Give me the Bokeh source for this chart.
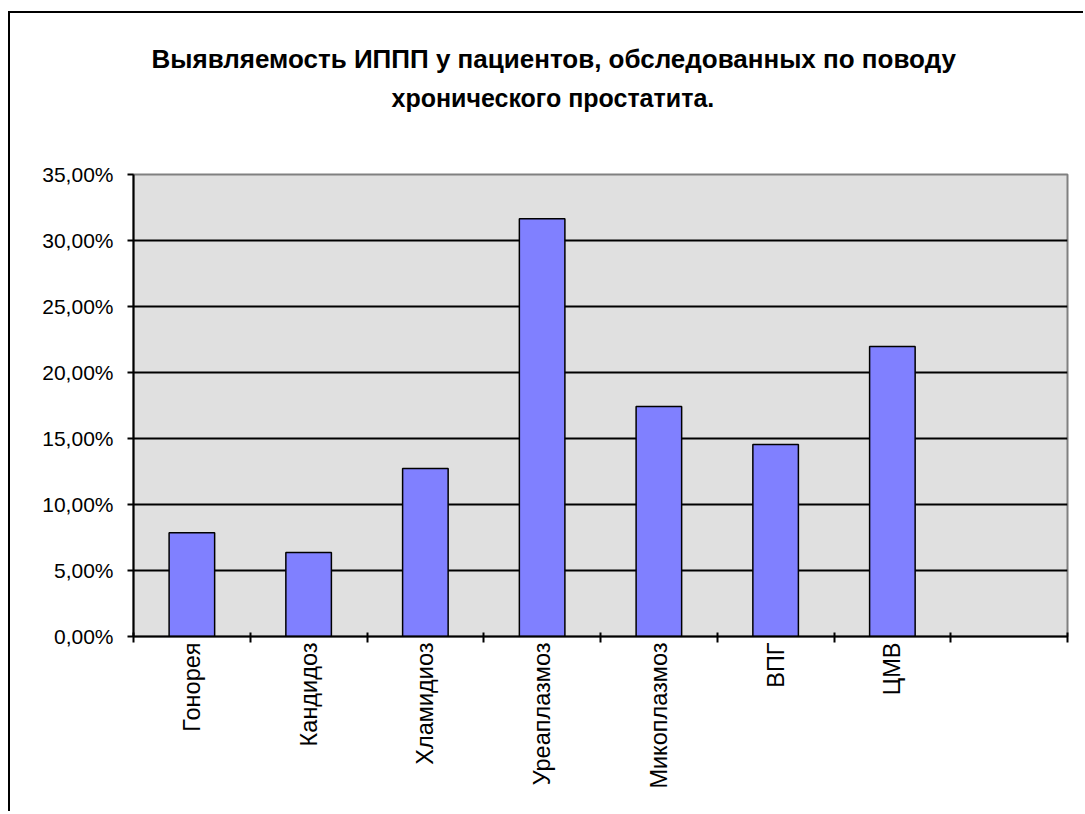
import math
from bokeh.plotting import figure
from bokeh.models import ColumnDataSource, FixedTicker, Range1d, Title
from bokeh.embed import file_html
from bokeh.resources import INLINE

categories = ["Гонорея", "Кандидоз", "Хламидиоз", "Уреаплазмоз", "Микоплазмоз", "ВПГ", "ЦМВ", ""]
values = [7.86, 6.36, 12.73, 31.64, 17.42, 14.55, 21.97, None]
y_ticks = [0, 5, 10, 15, 20, 25, 30, 35]
y_tick_labels = ["0,00%", "5,00%", "10,00%", "15,00%", "20,00%", "25,00%", "30,00%", "35,00%"]
title_lines = ["Выявляемость ИППП у пациентов, обследованных по поводу", "хронического простатита."]

FONT = "Liberation Sans"

xs = [i + 0.5 for i in range(len(categories)) if values[i] is not None]
tops = [v for v in values if v is not None]
src = ColumnDataSource(dict(x=xs, top=tops))

p = figure(width=1075, height=800, output_backend="svg", toolbar_location=None,
           x_range=Range1d(0, len(categories)), y_range=Range1d(0, 35),
           min_border_left=123, min_border_top=161, min_border_right=18, min_border_bottom=177)
p.styles = {"margin-left": "8px", "margin-top": "11px",
            "border-top": "2px solid black", "border-left": "2px solid black"}
p.title.visible = False

p.background_fill_color = "#e0e0e0"
p.border_fill_color = "white"
p.outline_line_color = "#808080"
p.outline_line_width = 2

p.vbar(x="x", top="top", width=0.39, bottom=0, source=src,
       fill_color="#8080ff", line_color="black", line_width=1.5)

# y axis
ya = p.yaxis[0]
ya.ticker = FixedTicker(ticks=y_ticks)
ya.major_label_overrides = {t: l for t, l in zip(y_ticks, y_tick_labels)}
ya.major_label_text_font = FONT
ya.major_label_text_font_size = "21px"
ya.major_label_text_color = "black"
ya.axis_line_color = "black"
ya.axis_line_width = 2
ya.major_tick_line_color = "black"
ya.major_tick_line_width = 2
ya.major_tick_out = 6
ya.major_tick_in = 0
ya.minor_tick_line_color = None
ya.major_label_standoff = 14

# x axis
xa = p.xaxis[0]
xa.ticker = FixedTicker(ticks=[i + 0.5 for i in range(len(categories))],
                        minor_ticks=list(range(len(categories) + 1)))
xa.major_label_overrides = {i + 0.5: c for i, c in enumerate(categories)}
xa.major_label_orientation = math.pi / 2
xa.major_label_text_font = FONT
xa.major_label_text_font_size = "23.5px"
xa.major_label_text_color = "black"
xa.axis_line_color = "black"
xa.axis_line_width = 2
xa.major_tick_line_color = None
xa.minor_tick_line_color = "black"
xa.minor_tick_line_width = 2
xa.minor_tick_in = 4
xa.minor_tick_out = 6
xa.major_label_standoff = 0

p.xgrid.visible = False
p.ygrid.ticker = FixedTicker(ticks=[5, 10, 15, 20, 25, 30])
p.ygrid.grid_line_color = "black"
p.ygrid.grid_line_width = 2

# title: spacer + two lines stacked above the frame
p.add_layout(Title(text=" ", text_font_size="10px", standoff=41), "above")
p.add_layout(Title(text=title_lines[1], align="left", offset=258, vertical_align="bottom",
                   standoff=17, text_font=FONT, text_font_size="25px",
                   text_font_style="bold", text_color="black"), "above")
p.add_layout(Title(text=title_lines[0], align="left", offset=18, vertical_align="bottom",
                   standoff=0, text_font=FONT, text_font_size="26px",
                   text_font_style="bold", text_color="black"), "above")

open("out.html", "w").write(file_html(p, INLINE))
